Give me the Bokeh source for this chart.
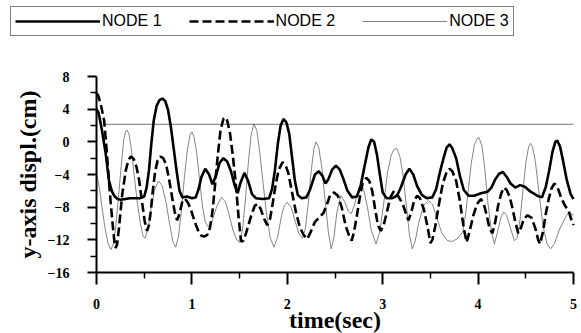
from bokeh.plotting import figure
from bokeh.models import (Range1d, FixedTicker, Legend, LegendItem)
from bokeh.embed import file_html
from bokeh.resources import INLINE

# ---- data ----
t1 = [0, 0.02, 0.045, 0.07, 0.097, 0.13, 0.16, 0.185, 0.22, 0.255, 0.35, 0.45, 0.5,
      0.525, 0.55, 0.575, 0.60, 0.63, 0.66, 0.69, 0.72, 0.75, 0.78, 0.81, 0.84, 0.87,
      0.90, 0.95, 1.0, 1.04, 1.07, 1.10, 1.14, 1.18, 1.215, 1.25, 1.29, 1.33, 1.37,
      1.41, 1.45, 1.48, 1.51, 1.55, 1.59, 1.63, 1.67, 1.74, 1.81, 1.84, 1.87, 1.90,
      1.93, 1.96, 1.99, 2.02, 2.05, 2.08, 2.11, 2.15, 2.20, 2.24, 2.29, 2.33, 2.37,
      2.40, 2.43, 2.47, 2.51, 2.55, 2.59, 2.63, 2.68, 2.73, 2.77, 2.81, 2.85, 2.88,
      2.91, 2.94, 2.97, 3.0, 3.04, 3.10, 3.15, 3.19, 3.24, 3.28, 3.32, 3.36, 3.41,
      3.46, 3.52, 3.56, 3.60, 3.64, 3.67, 3.70, 3.73, 3.77, 3.81, 3.85, 3.90, 3.96,
      4.03, 4.10, 4.14, 4.18, 4.22, 4.26, 4.30, 4.34, 4.39, 4.44, 4.49, 4.55, 4.62,
      4.67, 4.71, 4.745, 4.78, 4.81, 4.83, 4.86, 4.89, 4.93, 4.97, 5.0]
y1 = [4.0, 3.6, 2.2, 0.5, -1.5, -4.7, -6.0, -6.6, -7.0, -7.1, -6.9, -6.9, -6.7,
      -5.6, -3.5, -0.2, 2.6, 4.4, 5.1, 5.3, 5.0, 3.9, 1.8, -0.9, -3.6, -6.0,
      -6.8, -6.7, -6.9, -6.8, -5.8, -4.3, -3.3, -4.0, -5.2, -4.2, -2.6, -2.0, -2.4,
      -3.6, -5.4, -6.3, -5.0, -3.8, -4.8, -6.4, -6.9, -7.0, -6.9, -5.8, -3.5, -0.3,
      2.0, 2.8, 2.4, 1.0, -1.9, -4.8, -6.5, -6.9, -6.8, -5.8, -4.0, -3.6, -4.2,
      -5.1, -4.6, -3.4, -2.9, -3.4, -4.6, -6.0, -6.8, -6.7, -5.3, -3.0, -0.7, 0.3,
      0.0, -1.6, -4.0, -6.2, -6.9, -6.9, -6.6, -5.6, -4.0, -3.3, -4.0, -5.4, -6.5,
      -6.9, -6.8, -5.8, -3.7, -1.9, -0.7, -0.3, -0.8, -2.0, -4.2, -5.9, -6.6, -6.6,
      -6.3, -6.1, -5.6, -4.6, -3.9, -3.7, -4.3, -5.1, -5.6, -5.3, -5.5, -6.1, -6.6,
      -6.8, -5.5, -3.5, -1.2, 0.0, 0.15, -0.6, -2.3, -4.7, -6.4, -7.0]

t2 = [0, 0.02, 0.045, 0.08, 0.11, 0.13, 0.15, 0.17, 0.185, 0.2, 0.215, 0.237, 0.27,
      0.307, 0.335, 0.36, 0.39, 0.42, 0.447, 0.48, 0.505, 0.53, 0.55, 0.57, 0.59,
      0.615, 0.64, 0.67, 0.70, 0.73, 0.76, 0.79, 0.82, 0.845, 0.87, 0.90, 0.93, 0.96,
      0.99, 1.03, 1.07, 1.10, 1.13, 1.16, 1.19, 1.215, 1.24, 1.27, 1.30, 1.33, 1.35,
      1.37, 1.40, 1.43, 1.46, 1.49, 1.515, 1.54, 1.57, 1.62, 1.66, 1.69, 1.72, 1.76,
      1.79, 1.82, 1.85, 1.88, 1.91, 1.95, 1.98, 2.01, 2.05, 2.09, 2.13, 2.17, 2.21,
      2.25, 2.29, 2.34, 2.38, 2.42, 2.45, 2.49, 2.53, 2.57, 2.61, 2.65, 2.675, 2.70,
      2.73, 2.76, 2.79, 2.83, 2.86, 2.89, 2.92, 2.95, 2.98, 3.01, 3.04, 3.08, 3.12,
      3.16, 3.21, 3.25, 3.27, 3.30, 3.33, 3.36, 3.39, 3.43, 3.47, 3.50, 3.52, 3.55,
      3.59, 3.63, 3.67, 3.70, 3.73, 3.77, 3.81, 3.85, 3.88, 3.91, 3.95, 3.99, 4.03,
      4.06, 4.09, 4.12, 4.15, 4.18, 4.21, 4.24, 4.27, 4.30, 4.33, 4.36, 4.39, 4.42,
      4.45, 4.48, 4.52, 4.56, 4.60, 4.63, 4.65, 4.68, 4.71, 4.74, 4.77, 4.80, 4.83,
      4.87, 4.91, 4.95, 4.98, 5.0]
y2 = [6.0, 5.6, 4.6, 2.6, -1.5, -4.8, -7.6, -10.2, -11.9, -13.0, -12.6, -10.4, -6.4,
      -3.5, -2.2, -1.8, -2.1, -3.1, -4.7, -7.6, -9.7, -10.9, -10.2, -8.4, -6.0,
      -3.6, -2.3, -1.8, -2.0, -2.8, -4.5, -6.6, -8.6, -9.6, -8.8, -7.3, -7.0, -7.5,
      -8.3, -9.8, -11.0, -11.5, -11.6, -11.4, -10.5, -8.6, -5.6, -1.8, 1.4, 2.8, 3.0,
      2.6, 1.0, -1.8, -5.1, -9.3, -12.2, -12.1, -11.1, -9.1, -7.8, -7.6, -8.2, -9.5,
      -10.2, -9.4, -7.3, -5.1, -3.4, -2.5, -2.8, -3.8, -6.2, -8.6, -10.4, -11.4, -11.9,
      -10.9, -9.8, -9.2, -8.7, -7.5, -6.5, -6.2, -6.6, -8.0, -10.2, -11.6, -12.1, -11.0,
      -9.0, -6.8, -5.0, -4.4, -4.8, -6.0, -8.2, -10.2, -10.9, -10.2, -8.8, -6.8, -6.0,
      -6.6, -7.6, -9.0, -9.6, -8.6, -7.2, -6.6, -6.9, -8.2, -10.4, -12.4, -12.0, -10.4,
      -7.6, -5.1, -3.7, -3.3, -3.6, -4.8, -7.3, -10.6, -12.3, -11.0, -9.0, -7.6, -7.0,
      -7.6, -9.0, -10.6, -11.2, -9.8, -7.8, -6.4, -5.6, -5.9, -6.7, -8.1, -9.8, -11.2,
      -10.5, -9.4, -9.0, -9.3, -10.6, -12.0, -12.5, -11.0, -8.8, -7.0, -5.7, -5.1, -5.5,
      -6.8, -7.8, -8.5, -9.6, -10.2]

t3 = [0, 0.03, 0.06, 0.09, 0.12, 0.15, 0.175, 0.2, 0.23, 0.26, 0.285, 0.305, 0.32,
      0.34, 0.365, 0.394, 0.43, 0.46, 0.49, 0.51, 0.54, 0.57, 0.61, 0.65, 0.69, 0.73,
      0.77, 0.80, 0.83, 0.86, 0.89, 0.92, 0.95, 0.98, 1.0, 1.02, 1.05, 1.08, 1.11,
      1.14, 1.17, 1.21, 1.26, 1.31, 1.35, 1.39, 1.43, 1.47, 1.50, 1.53, 1.56, 1.59,
      1.62, 1.65, 1.68, 1.71, 1.74, 1.78, 1.82, 1.86, 1.90, 1.94, 1.97, 2.0, 2.04,
      2.08, 2.12, 2.16, 2.19, 2.22, 2.25, 2.28, 2.30, 2.33, 2.36, 2.40, 2.43, 2.46,
      2.49, 2.52, 2.56, 2.60, 2.64, 2.67, 2.70, 2.74, 2.77, 2.80, 2.84, 2.88, 2.93,
      2.97, 3.01, 3.05, 3.09, 3.12, 3.15, 3.18, 3.21, 3.25, 3.28, 3.31, 3.34, 3.38,
      3.43, 3.48, 3.52, 3.57, 3.62, 3.68, 3.73, 3.79, 3.84, 3.87, 3.90, 3.93, 3.96,
      3.99, 4.01, 4.04, 4.07, 4.10, 4.14, 4.17, 4.20, 4.24, 4.27, 4.30, 4.34, 4.38,
      4.41, 4.44, 4.47, 4.50, 4.53, 4.55, 4.57, 4.60, 4.64, 4.68, 4.72, 4.76, 4.80,
      4.85, 4.90, 4.95, 5.0]
y3 = [-3.9, -5.6, -8.2, -10.6, -12.4, -13.2, -12.6, -10.6, -6.8, -2.8, 0.2, 1.3, 1.45,
      1.0, -0.9, -4.0, -7.6, -10.0, -11.6, -11.8, -10.6, -8.3, -5.8, -4.8, -5.4, -7.5,
      -10.3, -12.2, -12.9, -11.6, -8.4, -4.5, -1.2, 0.8, 1.2, 0.7, -1.3, -4.6, -7.8,
      -9.8, -10.4, -9.8, -7.9, -6.8, -7.3, -8.9, -10.8, -12.0, -12.3, -10.8, -7.2, -2.8,
      0.8, 2.2, 1.4, -1.2, -4.4, -8.6, -11.7, -12.9, -11.6, -9.0, -7.8, -7.4, -8.0,
      -9.6, -11.2, -11.8, -10.6, -7.5, -3.6, -0.8, 0.0, -0.7, -3.0, -7.6, -11.0, -13.1,
      -11.6, -8.6, -6.6, -7.3, -8.5, -8.8, -7.9, -6.1, -5.3, -5.8, -8.0, -10.8, -12.5,
      -11.0, -7.6, -3.8, -1.6, -0.9, -0.86, -1.8, -3.8, -8.0, -11.4, -13.1, -12.2, -9.8,
      -7.8, -7.2, -7.6, -9.4, -11.2, -12.1, -12.2, -11.8, -11.0, -8.8, -5.6, -2.5, -0.4,
      0.4, 0.5, -0.5, -3.2, -7.2, -11.0, -12.5, -11.2, -9.2, -8.6, -9.0, -10.6, -12.1,
      -11.8, -9.5, -6.0, -2.6, -0.6, -0.2, -0.6, -2.4, -6.4, -10.3, -12.4, -13.1, -12.5,
      -10.8, -9.6, -8.6, -9.0]

ref_t = [0.08, 5.0]
ref_y = [2.15, 2.15]

x_ticks = [0, 1, 2, 3, 4, 5]
x_minor = [0.5, 1.5, 2.5, 3.5, 4.5]
y_ticks = [-16, -12, -8, -4, 0, 4, 8]
y_minor = [-14, -10, -6, -2, 2, 6]
names = ["NODE 1", "NODE 2", "NODE 3"]

# ---- layout (pixels inside the canvas) ----
W, H = 581, 333
X0_PX, X5_PX = 96, 573      # where t=0 and t=5 sit
Y8_PX, YM16_PX = 76, 272    # where y=8 and y=-16 sit
sx = (X5_PX - X0_PX) / 5.0
sy = (YM16_PX - Y8_PX) / 24.0
x_lo = 0 - X0_PX / sx
x_hi = 5 + (W - X5_PX) / sx
y_hi = 8 + Y8_PX / sy
y_lo = -16 - (H - YM16_PX) / sy

p = figure(width=W, height=H, output_backend="svg", toolbar_location=None,
           x_range=Range1d(x_lo, x_hi), y_range=Range1d(y_lo, y_hi),
           min_border=0, min_border_left=0, min_border_right=0,
           min_border_top=0, min_border_bottom=0)
p.outline_line_color = None
p.xgrid.grid_line_color = None
p.ygrid.grid_line_color = None

p.line(ref_t, ref_y, line_color="#777777", line_width=1.0)
r3 = p.line(t3, y3, line_color="#666666", line_width=0.8)
r2 = p.line(t2, y2, line_color="black", line_width=2.6, line_dash="9 4")
r1 = p.line(t1, y1, line_color="black", line_width=2.6)

serif = "Liberation Serif"
for ax in (p.xaxis[0], p.yaxis[0]):
    ax.axis_line_width = 2
    ax.axis_line_color = "black"
    ax.major_tick_line_width = 2
    ax.minor_tick_line_width = 1.5
    ax.major_tick_in = 0
    ax.minor_tick_in = 0
    ax.major_label_text_font = serif
    ax.major_label_text_font_style = "bold"
    ax.major_label_text_font_size = "14px"
    ax.major_label_text_color = "black"
    ax.axis_label_text_font = serif
    ax.axis_label_text_font_style = "bold"
    ax.axis_label_text_color = "black"

xa, ya = p.xaxis[0], p.yaxis[0]
xa.fixed_location = -16
xa.bounds = (0, 5)
ya.fixed_location = 0
ya.bounds = (-16, 8)
xa.ticker = FixedTicker(ticks=x_ticks, minor_ticks=x_minor)
ya.ticker = FixedTicker(ticks=y_ticks, minor_ticks=y_minor)
xa.axis_label = "time(sec)"
ya.axis_label = "y-axis displ.(cm)"
xa.major_tick_out = 12
xa.minor_tick_out = 6
xa.major_label_standoff = 14
xa.axis_label_standoff = -5
xa.axis_label_text_font_size = "24px"
ya.major_tick_out = 9
ya.minor_tick_out = 6
ya.major_label_standoff = 18
ya.axis_label_standoff = 4
ya.axis_label_text_font_size = "24px"

legend = Legend(items=[LegendItem(label=names[0], renderers=[r1]),
                       LegendItem(label=names[1], renderers=[r2]),
                       LegendItem(label=names[2], renderers=[r3])],
                orientation="horizontal", location=(10, H - 36), margin=0,
                padding=4, spacing=27, glyph_width=85, glyph_height=20,
                label_height=20, label_standoff=2,
                label_text_font="Liberation Sans", label_text_font_size="16px",
                label_text_color="black", border_line_color="black",
                border_line_width=1.2, background_fill_color="white",
                background_fill_alpha=1.0)
p.add_layout(legend, "center")

open("out.html", "w").write(file_html(p, INLINE))
